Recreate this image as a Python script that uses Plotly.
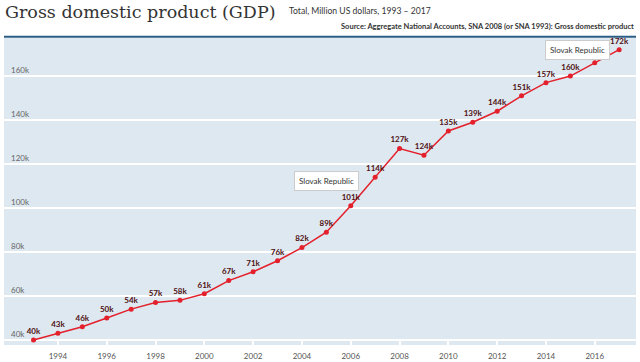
import plotly.graph_objects as go

years = list(range(1993, 2018))
gdp_musd = [40000, 43000, 46000, 50000, 54000, 57000, 58000, 61000, 67000, 71000,
            76000, 82000, 89000, 101000, 114000, 127000, 124000, 135000, 139000,
            144000, 151000, 157000, 160000, 166000, 172000]
country = "Slovak Republic"
title = "Gross domestic product (GDP)"
subtitle = "Total, Million US dollars, 1993 – 2017"
source = "Source: Aggregate National Accounts, SNA 2008 (or SNA 1993): Gross domestic product"

fig = go.Figure()
fig.add_trace(go.Scatter(
    x=years, y=gdp_musd, mode="lines+markers+text",
    line=dict(color="#e3202b", width=1.5),
    marker=dict(color="#e3202b", size=5),
    texttemplate="<b>%{y:.3~s}</b>", textposition="top center",
    textfont=dict(family="Lato", size=8, color="#4f1010"),
    hoverinfo="skip", showlegend=False, cliponaxis=False,
))

fig.update_layout(
    width=640, height=362,
    margin=dict(l=4, r=4, t=38, b=17, autoexpand=False),
    paper_bgcolor="white", plot_bgcolor="#dde8f0",
    xaxis=dict(range=[1991.79, 2017.69], tick0=1994, dtick=2, showgrid=False,
               zeroline=False, ticks="inside", ticklen=5, tickcolor="white", tickwidth=1.5,
               automargin=False, ticklabelstandoff=5,
               tickfont=dict(family="Lato", size=8, color="#555")),
    yaxis=dict(range=[37700, 177300], tick0=40000, dtick=20000, tickformat="~s",
               showgrid=True, gridcolor="white", gridwidth=1.5, zeroline=False,
               ticklabelposition="inside top", ticklabelstandoff=4, automargin=False,
               tickfont=dict(family="Lato", size=8, color="#666")),
    font=dict(family="Lato"),
)

fig.add_shape(type="line", xref="paper", yref="paper", x0=0, x1=1, y0=1.004, y1=1.004,
              line=dict(color="#2a5d85", width=2))

fig.add_annotation(xref="paper", yref="paper", x=-0.001, y=1.085, xanchor="left", yanchor="middle",
                   text=title, showarrow=False,
                   font=dict(family="DejaVu Serif", size=17.5, color="#333"))
fig.add_annotation(xref="paper", yref="paper", x=0.448, y=1.087, xanchor="left", yanchor="middle",
                   text=subtitle, showarrow=False,
                   font=dict(family="Lato", size=8.6, color="#333"))
fig.add_annotation(xref="paper", yref="paper", x=1.0, y=1.036, xanchor="right", yanchor="middle",
                   text=source, showarrow=False,
                   font=dict(family="Lato", size=7.5, color="#333", weight="bold"))

tip_style = dict(showarrow=False, bgcolor="white", bordercolor="#cccccc", borderwidth=1,
                 borderpad=4, font=dict(family="Lato", size=8, color="#333"), xanchor="right")
fig.add_annotation(x=years[14], y=gdp_musd[14], text=country, xshift=-16, yshift=-4, **tip_style)
fig.add_annotation(x=years[24], y=gdp_musd[24], text=country, xshift=-9, yshift=0, **tip_style)

fig.write_html("out.html", config={"displayModeBar": False},
               post_script="document.body.style.margin='0';")
